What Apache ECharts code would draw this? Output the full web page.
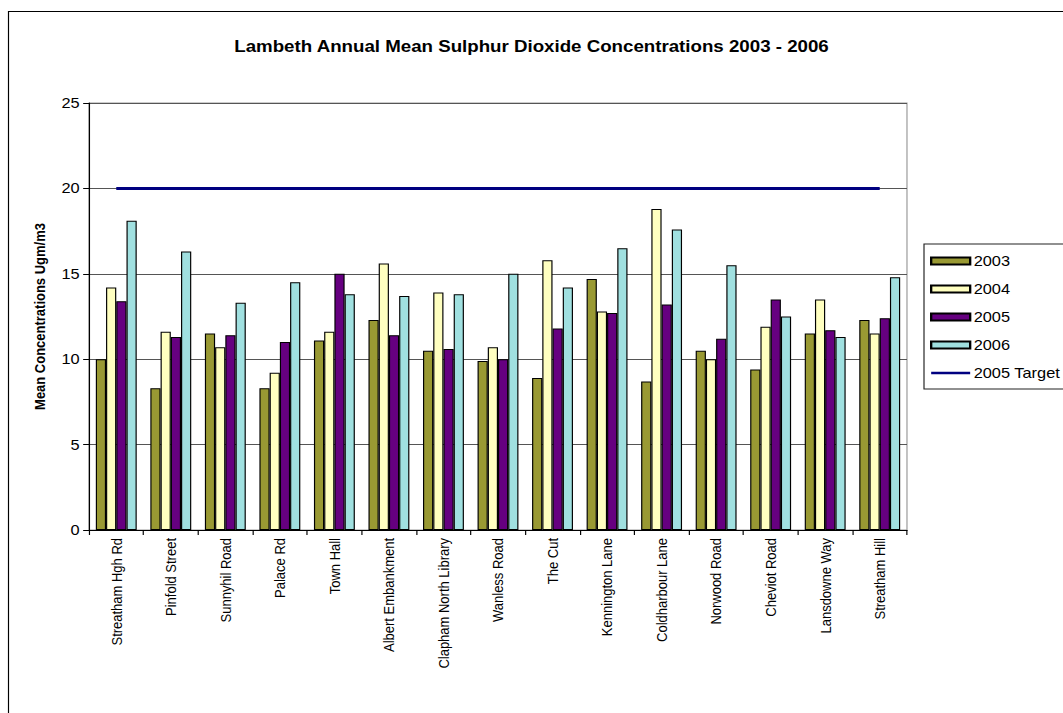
<!DOCTYPE html>
<html>
<head>
<meta charset="utf-8">
<script src="https://cdn.jsdelivr.net/npm/echarts@6/dist/echarts.min.js"></script>
<style>
  html, body { margin: 0; padding: 0; background: #fff; overflow: hidden; }
  #chart { width: 909px; height: 713px; transform: scaleX(1.1694); transform-origin: 0 0; }
</style>
</head>
<body>
<div id="chart"></div>
<script>
const categories = ['Streatham Hgh Rd', 'Pinfold Street', 'Sunnyhil Road', 'Palace Rd', 'Town Hall',
  'Albert Embankment', 'Clapham North Library', 'Wanless Road', 'The Cut', 'Kennington Lane',
  'Coldharbour Lane', 'Norwood Road', 'Cheviot Road', 'Lansdowne Way', 'Streatham Hill'];
const v2003 = [10.0, 8.3, 11.5, 8.3, 11.1, 12.3, 10.5, 9.9, 8.9, 14.7, 8.7, 10.5, 9.4, 11.5, 12.3];
const v2004 = [14.2, 11.6, 10.7, 9.2, 11.6, 15.6, 13.9, 10.7, 15.8, 12.8, 18.8, 10.0, 11.9, 13.5, 11.5];
const v2005 = [13.4, 11.3, 11.4, 11.0, 15.0, 11.4, 10.6, 10.0, 11.8, 12.7, 13.2, 11.2, 13.5, 11.7, 12.4];
const v2006 = [18.1, 16.3, 13.3, 14.5, 13.8, 13.7, 13.8, 15.0, 14.2, 16.5, 17.6, 15.5, 12.5, 11.3, 14.8];
const target2005 = [20, 20, 20, 20, 20, 20, 20, 20, 20, 20, 20, 20, 20, 20, 20];
const yTicks = { min: 0, max: 25, interval: 5 };

// The reference is drawn horizontally stretched; the page is laid out narrower and widened by SX.
const SX = 1.1694;
const px = v => v / SX;

const FONT = '"Liberation Sans", Arial, sans-serif';
const chart = echarts.init(document.getElementById('chart'), null, { renderer: 'svg' });

function barSeries(name, data, color) {
  return {
    name: name, type: 'bar', data: data,
    barGap: '0%', barCategoryGap: '25%',
    itemStyle: { color: color, borderColor: '#000', borderWidth: 1 }
  };
}

chart.setOption({
  backgroundColor: '#fff',
  animation: false,
  textStyle: { fontFamily: FONT, color: '#000' },
  title: {
    text: 'Lambeth Annual Mean Sulphur Dioxide Concentrations 2003 - 2006',
    left: 'center', top: 33,
    textStyle: { fontFamily: FONT, fontSize: 16, fontWeight: 'bold', color: '#000' }
  },
  graphic: [{
    type: 'rect', silent: true,
    shape: { x: px(8.5), y: 11.5, width: 1100, height: 800 },
    style: { fill: 'none', stroke: '#000', lineWidth: 1 }
  }],
  legend: {
    orient: 'vertical', left: px(924), top: 244,
    padding: [10, 12, 9, px(6)],
    borderColor: '#222', borderWidth: 1,
    itemWidth: px(39), itemHeight: 7, itemGap: 14,
    icon: 'rect',
    textStyle: { fontFamily: FONT, fontSize: 14, color: '#000', padding: [0, 0, 0, -2] },
    data: [
      { name: '2003' }, { name: '2004' }, { name: '2005' }, { name: '2006' },
      { name: '2005 Target', icon: 'path://M0,0 M0,2.1H40V4.9H0Z M40,7',
        itemStyle: { color: '#000080', borderWidth: 0 } }
    ]
  },
  grid: { left: px(89), top: 103, right: px(156), bottom: 183, show: true, borderColor: '#999', borderWidth: 1, backgroundColor: 'transparent' },
  xAxis: {
    type: 'category', data: categories,
    axisLine: { lineStyle: { color: '#000', width: 1 } },
    axisTick: { show: true, length: 5, lineStyle: { color: '#000' } },
    axisLabel: { rotate: 90, interval: 0, margin: 8, fontSize: 13, fontFamily: FONT, color: '#000' },
    splitLine: { show: false }
  },
  yAxis: {
    type: 'value', min: yTicks.min, max: yTicks.max, interval: yTicks.interval,
    name: 'Mean Concentrations Ugm/m3', nameLocation: 'middle', nameGap: 36,
    nameTextStyle: { fontFamily: FONT, fontSize: 13, fontWeight: 'bold', color: '#000' },
    axisLine: { show: true, lineStyle: { color: '#000', width: 1 } },
    axisTick: { show: true, length: 5, lineStyle: { color: '#000' } },
    axisLabel: { fontSize: 14, margin: 8, fontFamily: FONT, color: '#000' },
    splitLine: { show: true, lineStyle: { color: '#555', width: 1 } }
  },
  series: [
    barSeries('2003', v2003, '#999933'),
    barSeries('2004', v2004, '#FFFFC0'),
    barSeries('2005', v2005, '#660080'),
    barSeries('2006', v2006, '#A0E0E0'),
    {
      name: '2005 Target', type: 'line', data: target2005,
      symbol: 'none', z: 5,
      lineStyle: { color: '#000080', width: 3 },
      itemStyle: { color: '#000080' }
    }
  ]
});
</script>
</body>
</html>
